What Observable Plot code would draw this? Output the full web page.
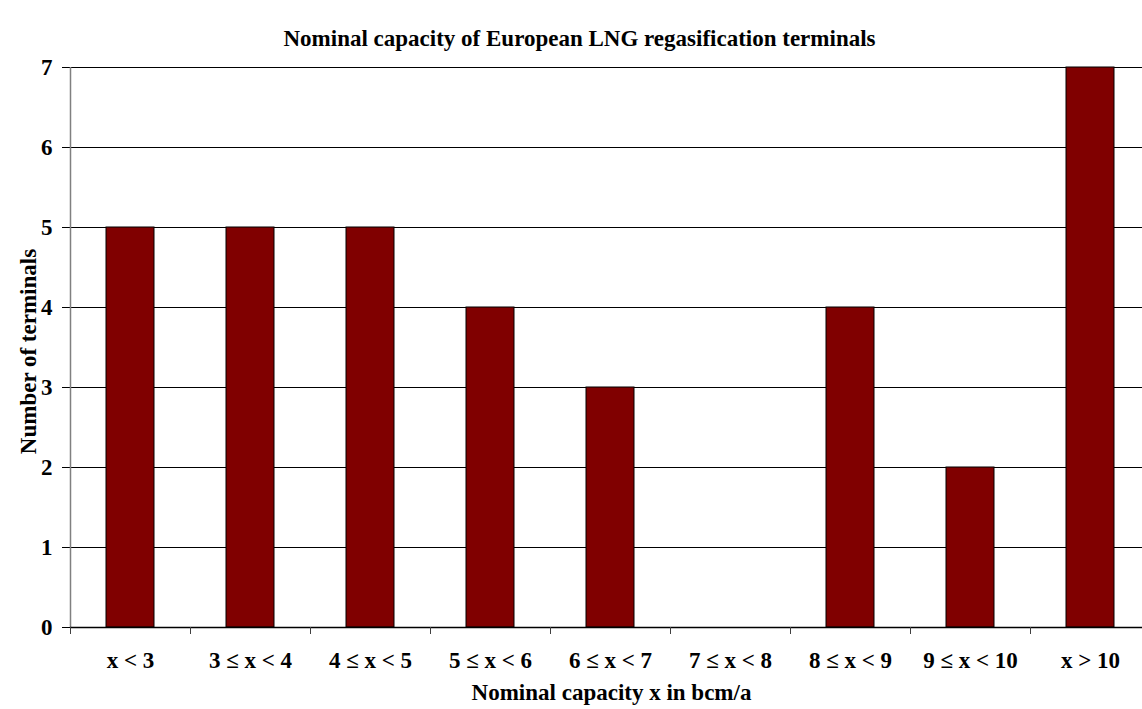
<!DOCTYPE html>
<html>
<head>
<meta charset="utf-8">
<script src="https://cdn.jsdelivr.net/npm/d3@7"></script>
<script src="https://cdn.jsdelivr.net/npm/@observablehq/plot@0.6"></script>
<style>
  html, body { margin: 0; padding: 0; background: #ffffff; }
  #chart svg { font-family: "Liberation Serif", "Times New Roman", serif; font-weight: bold; }
  #chart svg text { font-family: "Liberation Serif", "Times New Roman", serif; font-weight: bold; fill: #000000; }
</style>
</head>
<body>
<div id="chart"></div>
<script>
// Capacity classes (bcm/a) and the number of terminals in each
const categories = ["x < 3", "3 ≤ x < 4", "4 ≤ x < 5", "5 ≤ x < 6", "6 ≤ x < 7",
                    "7 ≤ x < 8", "8 ≤ x < 9", "9 ≤ x < 10", "x > 10"];
const counts = [5, 5, 5, 4, 3, 0, 4, 2, 7];
const yTicks = [0, 1, 2, 3, 4, 5, 6, 7];

const titleText = "Nominal capacity of European LNG regasification terminals";
const xTitle = "Nominal capacity x in bcm/a";
const yTitle = "Number of terminals";

const table = categories.map((c, i) => ({i, category: c, count: counts[i]}));
const boundaries = d3.range(categories.length + 1);
const centers = categories.map((c, i) => i + 0.5);

const font = "Liberation Serif";
const fs = 23;

const chart = Plot.plot({
  width: 1142,
  height: 709,
  marginTop: 67,
  marginBottom: 82,
  marginLeft: 70,
  marginRight: 0,
  style: {background: "white", color: "black"},
  x: {type: "linear", domain: [0, categories.length], range: [70, 1150], axis: null},
  y: {domain: [0, 7], axis: null},
  marks: [
    Plot.ruleY(yTicks, {stroke: "black", strokeWidth: 1}),
    Plot.axisY({ticks: yTicks, tickSize: 8, tickPadding: 10, label: null, stroke: "black",
                tickFormat: d3.format("d"), fontSize: fs, fontFamily: font, fontWeight: "bold"}),
    Plot.rectY(table, {x1: "i", x2: d => d.i + 1, y: "count", insetLeft: 36, insetRight: 36,
                       fill: "#800000", stroke: "black", strokeWidth: 1}),
    Plot.ruleX([0], {stroke: "#808080", strokeWidth: 1.5}),
    Plot.ruleY([0], {stroke: "black", strokeWidth: 1.5}),
    Plot.axisX({ticks: boundaries, tickSize: 7, tickFormat: () => "", label: null, stroke: "#404040"}),
    Plot.axisX({ticks: centers, tickSize: 0, tickPadding: 24, label: null,
                tickFormat: v => categories[Math.floor(v)],
                fontSize: fs, fontFamily: font, fontWeight: "bold"}),
    Plot.text([titleText], {frameAnchor: "top", textAnchor: "middle", dx: -27, dy: -38,
                            fontSize: fs, fontFamily: font, fontWeight: "bold"}),
    Plot.text([xTitle], {frameAnchor: "bottom", textAnchor: "middle", dx: 5, dy: 72,
                         fontSize: fs, fontFamily: font, fontWeight: "bold"}),
    Plot.text([yTitle], {frameAnchor: "left", textAnchor: "middle", rotate: -90, dx: -42, dy: 4,
                         fontSize: fs, fontFamily: font, fontWeight: "bold"})
  ]
});

document.getElementById("chart").appendChild(chart);
</script>
</body>
</html>
